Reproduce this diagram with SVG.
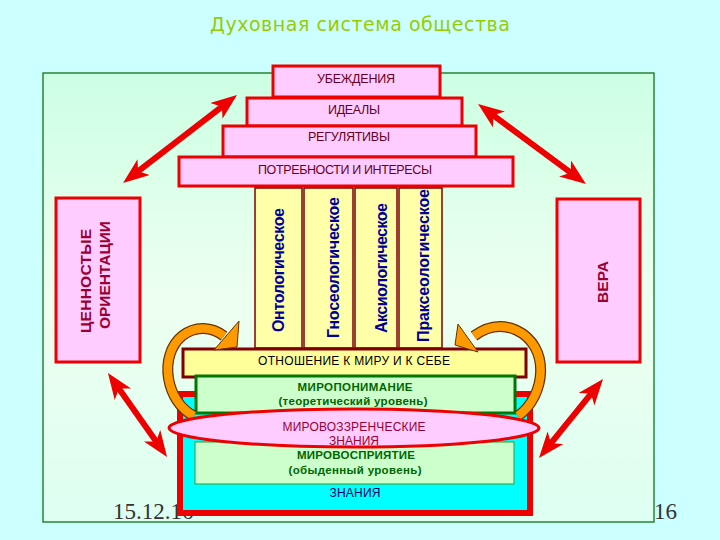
<svg xmlns="http://www.w3.org/2000/svg" width="720" height="540" viewBox="0 0 720 540">
<defs>
<linearGradient id="panelGrad" x1="0" y1="0" x2="0" y2="1">
<stop offset="0" stop-color="#CCFFE4"/>
<stop offset="0.5" stop-color="#EEFFF0"/>
<stop offset="1" stop-color="#DDFFF2"/>
</linearGradient>
<marker id="redHead" markerUnits="userSpaceOnUse" markerWidth="28" markerHeight="22" refX="12" refY="10" orient="auto-start-reverse">
<path d="M0,0 L26,10 L0,20 L7,10 z" fill="#EE0000"/>
</marker>
<style>
.pyr{fill:#FFCCFF;stroke:#EE0000;stroke-width:3}
.pyrt{font-family:"Liberation Sans",Arial,sans-serif;font-size:12.5px;fill:#660022;text-anchor:middle}
.col{fill:#FFFFAA;stroke:#800000;stroke-width:1.5}
.colt{font-family:"Liberation Sans",Arial,sans-serif;font-size:16px;font-weight:bold;fill:#000099;text-anchor:middle}
.side{fill:#FFCCFF;stroke:#EE0000;stroke-width:3}
.sidet{font-family:"Liberation Sans",Arial,sans-serif;font-size:15.5px;font-weight:bold;fill:#990033;text-anchor:middle}
.grn{font-family:"Liberation Sans",Arial,sans-serif;font-size:11.5px;font-weight:bold;fill:#006600;text-anchor:middle}
.plain{font-family:"Liberation Sans",Arial,sans-serif;font-size:12px;text-anchor:middle}
.arrow{stroke:#EE0000;stroke-width:6;fill:none;marker-start:url(#redHead);marker-end:url(#redHead)}
.loopOut{stroke:#663300;stroke-width:11;fill:none}
.loopIn{stroke:#FF9900;stroke-width:8.5;fill:none}
.loopHead{fill:#FF9900;stroke:#663300;stroke-width:1}
.date{font-family:"Liberation Serif","Times New Roman",serif;font-size:23px;fill:#333333}
</style>
</defs>
<rect x="0" y="0" width="720" height="540" fill="#CCFFFF"/>
<text x="360" y="31" text-anchor="middle" font-family="'DejaVu Sans',sans-serif" font-size="19" fill="#99CC00" textLength="300">Духовная система общества</text>
<rect x="43" y="73" width="611" height="449" fill="url(#panelGrad)" stroke="#006600" stroke-width="1.2"/>
<text class="date" x="113" y="519">15.12.16</text>
<text class="date" x="654" y="519">16</text>

<g id="pyramid">
<g id="ubezhdeniya"><rect class="pyr" x="273" y="66" width="167" height="31"/><text class="pyrt" x="356" y="83" textLength="78">УБЕЖДЕНИЯ</text></g>
<g id="idealy"><rect class="pyr" x="247" y="98" width="215" height="28"/><text class="pyrt" x="354" y="114" textLength="52">ИДЕАЛЫ</text></g>
<g id="regulyativy"><rect class="pyr" x="223" y="126" width="253" height="31"/><text class="pyrt" x="349" y="141" textLength="82">РЕГУЛЯТИВЫ</text></g>
<g id="potrebnosti"><rect class="pyr" x="179" y="157" width="334" height="29"/><text class="pyrt" x="345" y="174" textLength="174">ПОТРЕБНОСТИ И ИНТЕРЕСЫ</text></g>
</g>

<g id="columns">
<g id="ontolog"><rect class="col" x="255" y="188" width="47" height="160"/><text class="colt" transform="translate(284,270) rotate(-90)" textLength="124">Онтологическое</text></g>
<g id="gnoseolog"><rect class="col" x="304" y="188" width="49" height="160"/><text class="colt" transform="translate(339,267.5) rotate(-90)" textLength="141">Гносеологическое</text></g>
<g id="aksiolog"><rect class="col" x="355" y="188" width="42" height="160"/><text class="colt" transform="translate(387,268) rotate(-90)" textLength="130">Аксиологическое</text></g>
<g id="prakseolog"><rect class="col" x="399" y="188" width="43" height="160"/><text class="colt" transform="translate(429,265.5) rotate(-90)" textLength="153">Праксеологическое</text></g>
</g>

<g id="znaniya">
<rect x="180" y="394" width="350" height="119" fill="#00FFFF" stroke="#EE0000" stroke-width="6"/>
<text class="plain" x="355" y="497" fill="#000066" textLength="51">ЗНАНИЯ</text>
</g>

<g id="mirovospriyatie">
<rect x="195" y="442" width="319" height="42" fill="#CCFFCC" stroke="#339933" stroke-width="1"/>
<text class="grn" x="356" y="459" textLength="118">МИРОВОСПРИЯТИЕ</text>
<text class="grn" x="355" y="474" textLength="133">(обыденный уровень)</text>
</g>

<g id="otnoshenie">
<rect x="183" y="349" width="343" height="28" fill="#FFFF99" stroke="#800000" stroke-width="3"/>
<text class="plain" x="354" y="365" fill="#000000" textLength="192">ОТНОШЕНИЕ К МИРУ И К СЕБЕ</text>
</g>

<g id="miroponimanie">
<rect x="196" y="376" width="319" height="37" fill="#CCFFCC" stroke="#007700" stroke-width="3"/>
<text class="grn" x="355" y="391" textLength="115">МИРОПОНИМАНИЕ</text>
<text class="grn" x="353" y="405" textLength="149">(теоретический уровень)</text>
</g>

<g id="tsennostnye">
<rect class="side" x="56" y="198" width="84" height="164"/>
<text class="sidet" transform="translate(91,281) rotate(-90)" textLength="104">ЦЕННОСТЫЕ</text>
<text class="sidet" transform="translate(110,275) rotate(-90)" textLength="108">ОРИЕНТАЦИИ</text>
</g>

<g id="vera">
<rect class="side" x="557" y="199" width="83" height="163"/>
<text class="sidet" transform="translate(608,282) rotate(-90)" textLength="42">ВЕРА</text>
</g>

<g id="connectors">
<line class="arrow" x1="134.1" y1="174.4" x2="225.9" y2="103.6"/>
<line class="arrow" x1="489.3" y1="112.3" x2="574.7" y2="175.7"/>
<line class="arrow" x1="116" y1="384.5" x2="159" y2="445.5"/>
<line class="arrow" x1="594.2" y1="389.9" x2="547.8" y2="447.1"/>
<path class="loopOut" d="M194,416 C166,402 158,356 182,336 C196,325 212,327 224,336"/>
<path class="loopIn" d="M194,416 C166,402 158,356 182,336 C196,325 212,327 224,336"/>
<polygon class="loopHead" points="239,321 237,347 214,350"/>
<path class="loopOut" d="M518,416 C546,396 551,346 516,330 C500,323 486,327 474,336"/>
<path class="loopIn" d="M518,416 C546,396 551,346 516,330 C500,323 486,327 474,336"/>
<polygon class="loopHead" points="455,345 458,324 478,352"/>
</g>

<g id="mirovozzrencheskie">
<ellipse cx="354" cy="428" rx="185" ry="19" fill="#FFCCFF" stroke="#EE0000" stroke-width="3"/>
<text class="plain" x="354" y="431" fill="#990033" textLength="143">МИРОВОЗЗРЕНЧЕСКИЕ</text>
<text class="plain" x="354" y="445" fill="#990033" textLength="50">ЗНАНИЯ</text>
</g>
</svg>
